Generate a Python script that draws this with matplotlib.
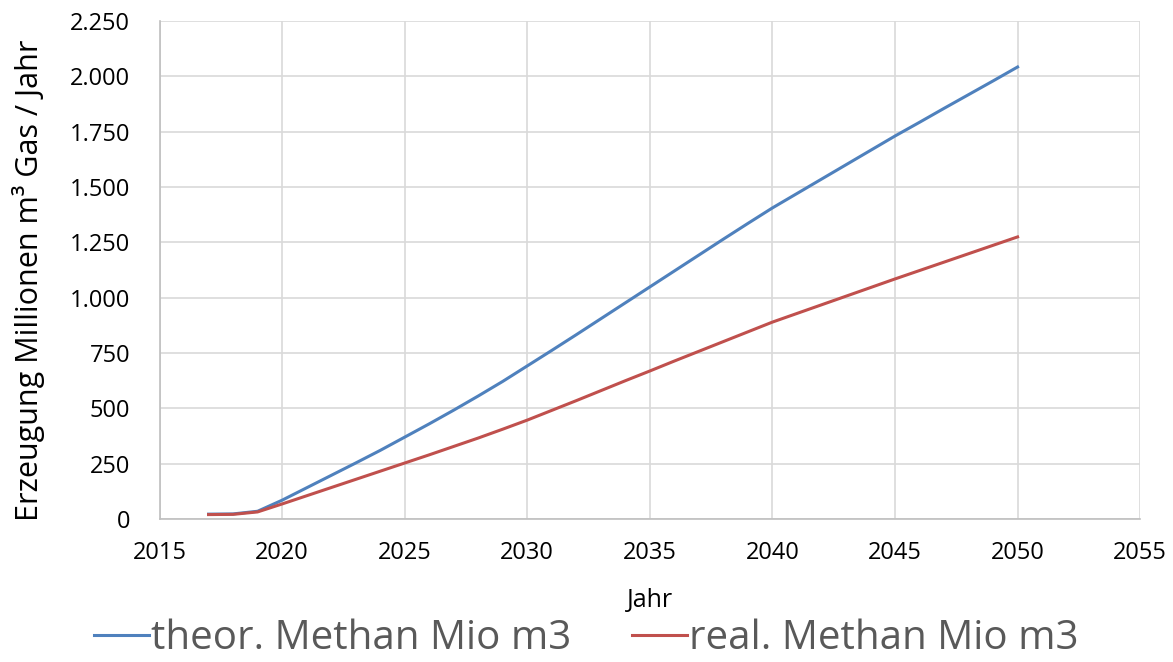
import matplotlib
matplotlib.use("Agg")
from matplotlib import pyplot as plt
from matplotlib.ticker import FuncFormatter

years = list(range(2017, 2051))
theor = [22, 23, 35, 85, 141, 197, 253, 310, 370, 430, 492, 556, 622, 692,
         762, 833, 905, 977, 1049, 1121, 1193, 1265, 1336, 1406, 1471, 1536,
         1601, 1666, 1731, 1793, 1856, 1918, 1980, 2043]
real = [20, 21, 32, 68, 105, 142, 179, 216, 253, 290, 328, 366, 406, 447,
        491, 535, 580, 625, 669, 714, 758, 802, 846, 890, 929, 968, 1007,
        1046, 1085, 1123, 1161, 1199, 1237, 1275]
labels = ["theor. Methan Mio m3", "real. Methan Mio m3"]

plt.rcParams['font.family'] = ['Open Sans', 'DejaVu Sans']

fig = plt.figure(figsize=(11.73, 6.62), dpi=100)
ax = fig.add_axes([0.136, 0.216, 0.836, 0.752])

ax.plot(years, theor, color="#4F81BD", lw=2.2, label=labels[0],
        solid_joinstyle="round")
ax.plot(years, real, color="#C0504D", lw=2.2, label=labels[1],
        solid_joinstyle="round")

ax.set_xlim(2015, 2055)
ax.set_ylim(0, 2250)
ax.set_xticks(range(2015, 2056, 5))
ax.set_yticks(range(0, 2251, 250))
ax.yaxis.set_major_formatter(FuncFormatter(lambda v, _: f"{int(v):,}".replace(",", ".")))
ax.grid(True, color="#d9d9d9", lw=1.2)
ax.set_axisbelow(True)
for s in ["top", "right"]:
    ax.spines[s].set_visible(False)
for s in ["left", "bottom"]:
    ax.spines[s].set_color("#bfbfbf")
    ax.spines[s].set_linewidth(1.2)
ax.tick_params(length=0, labelsize=17)
ax.tick_params(axis="y", pad=21)
ax.tick_params(axis="x", pad=16)

ax.set_xlabel("Jahr", fontsize=18)
ax.xaxis.set_label_coords(0.5, -0.138)
ax.set_ylabel("Erzeugung Millionen m³ Gas / Jahr", fontsize=22)
ax.yaxis.set_label_coords(-0.117, 0.48)

leg = fig.legend(loc="center", bbox_to_anchor=(0.5, 0.035), ncol=2,
                 frameon=False, fontsize=29, handlelength=1.36,
                 handletextpad=0.06, columnspacing=1.5, borderpad=0)
for t in leg.get_texts():
    t.set_color("#595959")

fig.savefig("out.png", dpi=100)
